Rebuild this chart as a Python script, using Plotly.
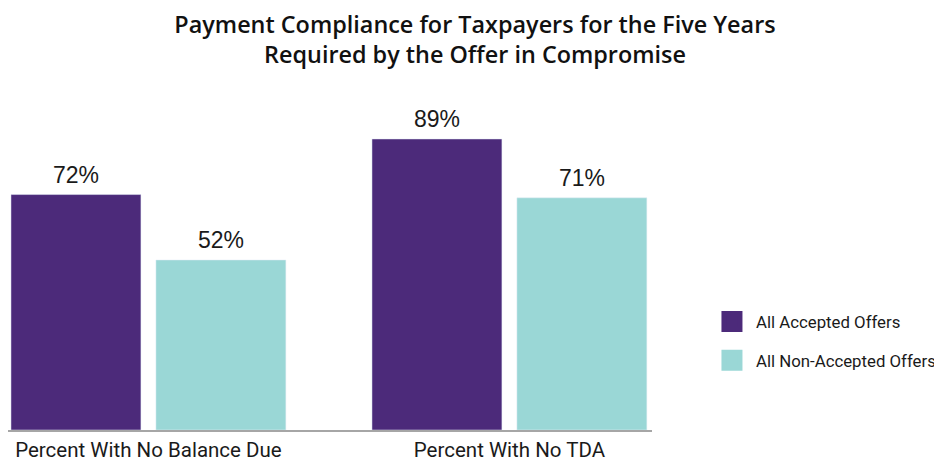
import plotly.graph_objects as go

categories = ["Percent With No Balance Due", "Percent With No TDA"]
accepted = [72, 89]
non_accepted = [52, 71]
series_names = ["All Accepted Offers", "All Non-Accepted Offers"]
series_colors = ["#4C2A7A", "#9AD7D6"]
title_text = "Payment Compliance for Taxpayers for the Five Years<br>Required by the Offer in Compromise"

# figure drawn 8px smaller because the page body has an 8px margin
W, H = 934, 454
ML, MR, MT, MB = 0, 290, 95, 32
XR = [-0.389, 1.395]
BARGAP = 0.197
GROUPGAP = 0.1034

fig = go.Figure()
for j, (name, vals) in enumerate(zip(series_names, [accepted, non_accepted])):
    fig.add_trace(go.Bar(x=categories, y=vals, name=name, legendgroup=name,
                         marker_color=series_colors[j], showlegend=False))
    # legend entry with a larger square swatch
    fig.add_trace(go.Scatter(x=[None], y=[None], mode="markers", name=name, legendgroup=name,
                             marker=dict(symbol="square", size=16, color=series_colors[j],
                                         line=dict(color=series_colors[j], width=6)),
                             showlegend=True, hoverinfo="skip"))

px_per_unit = (W - ML - MR) / (XR[1] - XR[0])
slot_px = (1 - BARGAP) / 2 * px_per_unit
for j, vals in enumerate([accepted, non_accepted]):
    for cat, v in zip(categories, vals):
        fig.add_annotation(x=cat, y=v, text=f"{v}%", showarrow=False,
                           xref="x", yref="y", yanchor="bottom",
                           xshift=(j - 0.5) * slot_px, yshift=5,
                           font=dict(size=23, color="#1a1a1a", family="Liberation Sans"))

fig.update_layout(
    width=W, height=H,
    margin=dict(l=ML, r=MR, t=MT, b=MB, autoexpand=False),
    paper_bgcolor="white", plot_bgcolor="white",
    barmode="group", bargap=BARGAP, bargroupgap=GROUPGAP,
    title=dict(text=title_text, x=0.5, xanchor="center", y=1 - 25 / H, yanchor="middle",
               yref="container",
               font=dict(family="Open Sans", size=23.4, color="#111111", weight=600)),
    xaxis=dict(range=XR, showline=True, linecolor="#A6A6A6", linewidth=2,
               ticks="", showgrid=False, automargin=False,
               tickfont=dict(family="Roboto", size=20.5, color="#1a1a1a")),
    yaxis=dict(range=[0, 100], visible=False, showgrid=False),
    legend=dict(x=1.0869, xanchor="left", y=0.272, yanchor="middle",
                font=dict(family="Roboto", size=16.8, color="#1a1a1a"),
                tracegroupgap=14, itemwidth=38),
    showlegend=True,
)

fig.write_html("out.html")
